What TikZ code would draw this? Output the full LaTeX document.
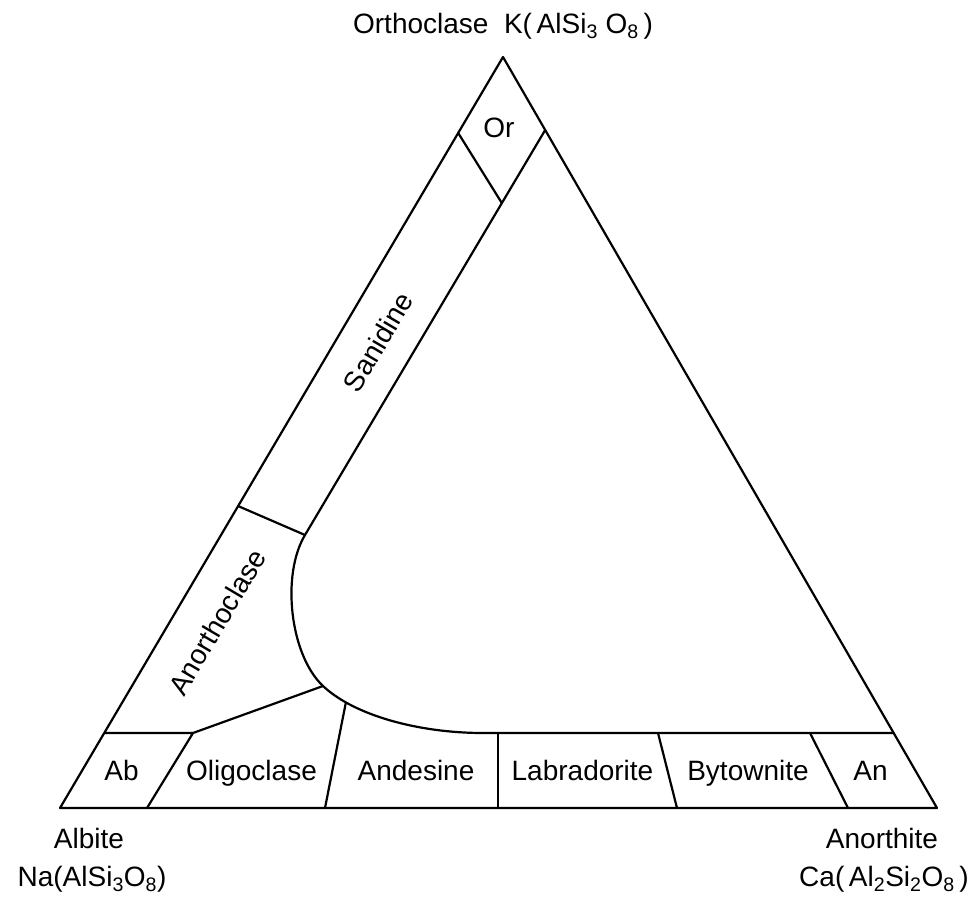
\documentclass[tikz,border=0pt]{standalone}
\usepackage{fontspec}
\setmainfont{Liberation Sans}
\begin{document}
\begin{tikzpicture}[x=1pt,y=-1pt, line width=2.2pt, line join=round,
  lab/.style={font=\fontsize{28}{32}\selectfont, inner sep=0pt, anchor=base},
  rlab/.style={font=\fontsize{28}{32}\selectfont, inner sep=0pt, rotate=59.5}]
\useasboundingbox (0,0) rectangle (979,902);
% corners
\coordinate (Alb) at (60,808);
\coordinate (Ano) at (937,808);
\coordinate (Ort) at (503,57);
\draw (Alb) -- (Ano) -- (Ort) -- cycle;
% Or field
\coordinate (orL) at (458.2,133);
\coordinate (orR) at (545.2,130);
\coordinate (orB) at (501.8,203);
\draw (orL) -- (orB);
% sanidine / main boundary
\coordinate (sanB) at (305,535);
\coordinate (kneeB) at (323,686);
\coordinate (flat) at (483,733);
\coordinate (rEdge) at (893.7,733);
\draw (orR) -- (sanB)
  .. controls (281,575) and (290,655) .. (kneeB)
  .. controls (355,716) and (420,733) .. coordinate[pos=0.2] (andT) (flat)
  -- (rEdge);
% Sanidine / Anorthoclase divider
\coordinate (anoL) at (238,506);
\draw (anoL) -- (sanB);
% Ab field
\coordinate (abL) at (104.2,733);
\coordinate (abR) at (193,733);
\coordinate (abB) at (147,808);
\draw (abL) -- (abR) -- (abB);
\draw (abR) -- (kneeB);
% bottom dividers
\coordinate (andB) at (325,808);
\draw (andT) -- (andB);
\coordinate (labT) at (498,733);
\coordinate (labB) at (498,808);
\draw (labT) -- (labB);
\coordinate (bytT) at (658,733);
\coordinate (bytB) at (677,808);
\draw (bytT) -- (bytB);
\coordinate (anT) at (810,733);
\coordinate (anB) at (848,808);
\draw (anT) -- (anB);
% labels
\node[lab] (tOr) at (503,33) {Orthoclase\ \ K(\,AlSi\textsubscript{3} O\textsubscript{8}\,)};
\node[lab] (lOr) at (499,137) {Or};
\node[rlab] (lSan) at (378,342) {Sanidine};
\node[rlab] (lAnc) at (217,622) {Anorthoclase};
\node[lab] (lAb) at (121.5,780) {Ab};
\node[lab] (lOl) at (251.5,780) {Oligoclase};
\node[lab] (lAd) at (416,780) {Andesine};
\node[lab] (lLb) at (582.5,780) {Labradorite};
\node[lab] (lBy) at (748,780) {Bytownite};
\node[lab] (lAn) at (870.5,780) {An};
\node[lab] (tAlb) at (89,848) {Albite};
\node[lab] (fAlb) at (92,886) {Na(AlSi\textsubscript{3}O\textsubscript{8})};
\node[lab] (tAno) at (882,848) {Anorthite};
\node[lab] (fAno) at (884,886) {Ca(\,Al\textsubscript{2}Si\textsubscript{2}O\textsubscript{8}\,)};
\end{tikzpicture}
\end{document}
